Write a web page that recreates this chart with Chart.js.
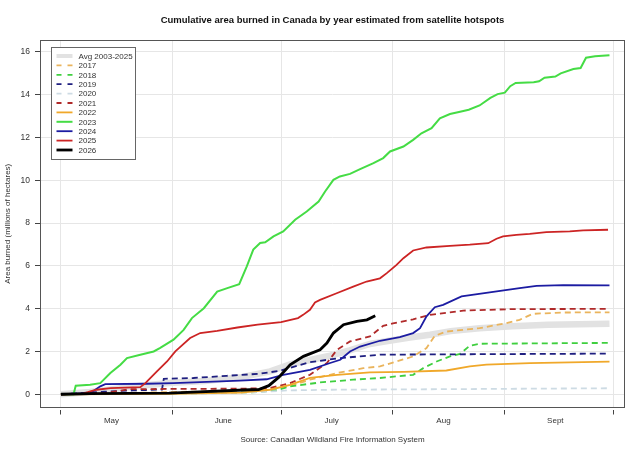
<!DOCTYPE html>
<html>
<head>
<meta charset="utf-8">
<title>Cumulative area burned in Canada</title>
<script src="https://cdn.jsdelivr.net/npm/chart.js@4.4.1/dist/chart.umd.min.js"></script>
<style>
  html, body { margin: 0; padding: 0; background: #fff; }
  #wrap { width: 640px; height: 451px; }
</style>
</head>
<body>
<div id="wrap"><canvas id="chart" width="640" height="451"></canvas></div>
<script>
// x = day of season (0 = May 1), y = millions of hectares
const monthNames = ['May', 'June', 'July', 'Aug', 'Sept'];
const monthStarts = [0, 31, 61, 92, 123, 153];
const monthMids = [14, 45, 75, 106, 137];
const yTicks = [0, 2, 4, 6, 8, 10, 12, 14, 16];

const seriesLabels = ['Avg 2003-2025', '2017', '2018', '2019', '2020', '2021',
                      '2022', '2023', '2024', '2025', '2026'];

const avg = [[0,0],[8,0.1],[15,0.25],[22,0.4],[30,0.52],[40,0.62],[50,0.8],[58,1.07],[63.5,1.4],
  [69,1.6],[74.6,1.8],[80,2.05],[85.6,2.35],[91,2.5],[96.7,2.65],[102.3,2.78],[108,2.95],
  [116,3.08],[125,3.18],[135,3.25],[152,3.3]];

const y2017 = [[0,0],[15,0.05],[30,0.1],[45,0.15],[55,0.2],[63.5,0.37],[69,0.68],[76.5,0.99],
  [83.8,1.22],[88.4,1.3],[93,1.53],[97.6,1.77],[101.3,2.16],[103.6,2.73],[106.8,2.93],[116,3.09],
  [123.4,3.32],[127.1,3.48],[130.8,3.76],[139,3.82],[152,3.83]];

const y2018 = [[0,0],[20,0.02],[40,0.05],[55,0.1],[60,0.2],[63.5,0.37],[71.8,0.55],[81,0.68],
  [88.4,0.76],[97.6,0.91],[100.4,1.22],[104.1,1.53],[107.8,1.77],[110.6,1.89],[113.3,2.27],
  [116.1,2.36],[152,2.4]];

const y2019 = [[0,0],[5,0.05],[12,0.12],[20,0.18],[28,0.22],[28.5,0.72],[36.7,0.76],[45.9,0.86],
  [55.2,0.96],[60.7,1.1],[69,1.5],[77.4,1.69],[82.9,1.77],[88.4,1.85],[152,1.9]];

const y2020 = [[0,0],[40,0.02],[55,0.1],[63,0.18],[75,0.21],[110,0.24],[152,0.28]];

const y2021 = [[0,0],[12,0.05],[19,0.24],[35,0.25],[50,0.26],[57.9,0.29],[63.5,0.52],[69,0.91],
  [73.7,1.46],[76.5,2.08],[80.1,2.47],[85.6,2.7],[89.3,3.2],[92,3.31],[97.6,3.5],[102.3,3.71],
  [111.5,3.91],[125,3.98],[152,3.99]];

const y2022 = [[0,0],[30,0.02],[50,0.08],[57.9,0.21],[63.5,0.44],[69,0.76],[76.5,0.91],[85.6,1.02],
  [95,1.05],[106.8,1.11],[113.3,1.3],[117.9,1.38],[129.9,1.45],[152,1.52]];

const y2023 = [[0,0],[3.5,0],[4.1,0.4],[8.1,0.44],[10.9,0.52],[13.7,0.99],[16.5,1.38],[18.3,1.69],
  [22,1.85],[25.7,2.0],[27.4,2.16],[31.2,2.55],[34,3.01],[36.3,3.56],[39.6,4.02],[43.3,4.8],
  [46.1,4.96],[49.4,5.15],[51.5,5.98],[53.3,6.76],[55.2,7.07],[56.6,7.1],[58.9,7.38],[61.6,7.61],
  [64.9,8.16],[68.1,8.54],[71.4,9.01],[73.2,9.48],[75.5,10.02],[77.3,10.18],[80.1,10.3],
  [82.9,10.52],[86.6,10.8],[89.3,11.04],[91.2,11.35],[94.9,11.58],[97.6,11.89],[99.9,12.2],
  [102.7,12.44],[105,12.9],[107.8,13.1],[110.6,13.21],[113,13.3],[116,13.5],[119,13.85],
  [121,14.03],[123,14.1],[124.5,14.4],[126,14.55],[131,14.58],[132.5,14.63],[134,14.8],
  [137,14.85],[138.5,15.0],[142,15.2],[144,15.25],[145.5,15.73],[148,15.8],[152,15.85]];

const y2024 = [[0,0],[8.1,0.05],[10.9,0.37],[12.3,0.47],[23.8,0.49],[31.2,0.52],[40.4,0.58],
  [49.6,0.64],[57,0.7],[61.6,0.91],[69,1.14],[74.6,1.46],[77.4,1.61],[80.1,2.0],[82.9,2.23],
  [88.4,2.5],[93.9,2.67],[97.6,2.86],[99.5,3.09],[101.3,3.64],[103.6,4.07],[105.9,4.18],
  [111,4.57],[118.8,4.76],[127.1,4.96],[131.8,5.07],[139.2,5.1],[152,5.09]];

const y2025 = [[0,0],[6,0.02],[8.1,0.13],[9.9,0.21],[13.7,0.29],[22,0.33],[23.4,0.52],[26.6,1.07],
  [29.4,1.53],[31.7,2.0],[33,2.2],[35.8,2.63],[38.6,2.86],[43.3,2.96],[48.9,3.12],[54.5,3.25],
  [61,3.37],[65.7,3.56],[67.1,3.71],[69,3.95],[70.4,4.29],[71.8,4.41],[76.4,4.72],[81,5.03],
  [84.7,5.27],[88.4,5.42],[90.3,5.66],[93,6.05],[94.9,6.36],[97.6,6.72],[101.3,6.86],
  [107.8,6.94],[113.3,6.99],[118.4,7.06],[120.7,7.27],[122.5,7.38],[126.2,7.45],[129.9,7.5],
  [134.5,7.58],[141,7.61],[144.7,7.66],[151.6,7.69]];

const y2026 = [[0,0],[8,0.03],[30,0.05],[36.7,0.1],[52.4,0.21],[54.8,0.22],[57.6,0.4],[60.4,0.8],
  [63.5,1.38],[67.2,1.77],[71.8,2.08],[73.7,2.39],[75.5,2.86],[78.3,3.25],[82,3.41],[84.8,3.48],
  [87.1,3.67]];

const seriesData = [avg, y2017, y2018, y2019, y2020, y2021, y2022, y2023, y2024, y2025, y2026];

// line styles: colour, width, dash
const styles = [
  { color: '#e2e2e2', width: 6.5, dash: [] },
  { color: '#eab45c', width: 1.8, dash: [6, 4] },
  { color: '#3fcf3f', width: 1.8, dash: [6, 4] },
  { color: '#1f1f80', width: 1.8, dash: [6, 4] },
  { color: '#cddbe4', width: 1.8, dash: [6, 4] },
  { color: '#b02a2a', width: 1.8, dash: [6, 4] },
  { color: '#f0a82a', width: 1.8, dash: [] },
  { color: '#45dc45', width: 2, dash: [] },
  { color: '#1c1ca2', width: 1.8, dash: [] },
  { color: '#cc2424', width: 1.8, dash: [] },
  { color: '#000000', width: 2.8, dash: [] }
];

const FONT = '"Liberation Sans", Arial, sans-serif';
const GRID = '#e6e6e6';

const datasets = seriesData.map((pts, i) => ({
  label: seriesLabels[i],
  data: pts.map(p => ({ x: p[0], y: p[1] })),
  borderColor: styles[i].color,
  borderWidth: styles[i].width,
  borderDash: styles[i].dash,
  pointRadius: 0,
  tension: 0,
  fill: false,
  order: seriesData.length - i
}));

const frameAndLegend = {
  id: 'frameAndLegend',
  beforeDatasetsDraw(chart) {
    const { ctx, chartArea: a } = chart;
    ctx.save();
    ctx.strokeStyle = '#555';
    ctx.lineWidth = 1;
    ctx.strokeRect(Math.round(a.left) + 0.5, Math.round(a.top) + 0.5,
                   Math.round(a.right - a.left) - 1, Math.round(a.bottom - a.top) - 1);
    ctx.restore();
  },
  afterDatasetsDraw(chart) {
    const { ctx, chartArea: a } = chart;
    const x0 = a.left + 11.5, y0 = a.top + 7.5, w = 84, h = 112;
    ctx.save();
    ctx.fillStyle = '#fff';
    ctx.fillRect(x0, y0, w, h);
    ctx.strokeStyle = '#666';
    ctx.lineWidth = 1;
    ctx.strokeRect(x0, y0, w, h);
    ctx.font = '8px ' + FONT;
    ctx.textBaseline = 'middle';
    chart.data.datasets.forEach((ds, i) => {
      const y = y0 + 8.5 + i * 9.4;
      ctx.beginPath();
      ctx.setLineDash(styles[i].dash.length ? [5, 6] : []);
      ctx.strokeStyle = styles[i].color;
      ctx.lineWidth = Math.min(styles[i].width, 4);
      ctx.moveTo(x0 + 5, y);
      ctx.lineTo(x0 + 21, y);
      ctx.stroke();
      ctx.setLineDash([]);
      ctx.fillStyle = '#333';
      ctx.fillText(ds.label, x0 + 27, y + 0.5);
    });
    ctx.restore();
  }
};

const ctx = document.getElementById('chart').getContext('2d');
new Chart(ctx, {
  type: 'line',
  data: { datasets: datasets },
  plugins: [frameAndLegend],
  options: {
    responsive: false,
    animation: false,
    layout: { padding: { left: 0, right: 15, top: 0, bottom: 0 } },
    plugins: {
      legend: { display: false },
      tooltip: { enabled: false }
    },
    scales: {
      x: {
        type: 'linear',
        position: 'bottom',
        min: -5.8,
        max: 156.3,
        afterBuildTicks: scale => {
          scale.ticks = monthStarts.concat(monthMids).sort((a, b) => a - b).map(v => ({ value: v }));
        },
        afterFit: scale => { scale.height = 43.5; },
        border: { display: false },
        grid: {
          z: -1,
          color: c => (c.tick && monthStarts.includes(c.tick.value)) ? GRID : 'rgba(0,0,0,0)',
          tickColor: c => (c.tick && monthStarts.includes(c.tick.value)) ? '#444' : 'rgba(0,0,0,0)',
          tickLength: 7,
          tickBorderDash: [0, 2, 5, 100]
        },
        ticks: {
          autoSkip: false,
          maxRotation: 0,
          padding: 1,
          color: '#333',
          font: { family: FONT, size: 8 },
          callback: v => {
            const k = monthMids.indexOf(v);
            return k >= 0 ? monthNames[k] : '';
          }
        },
        title: {
          display: true,
          text: 'Source: Canadian Wildland Fire Information System',
          color: '#333',
          font: { family: FONT, size: 8 },
          padding: { top: 0, bottom: 6 }
        }
      },
      xTop: {
        type: 'linear',
        position: 'top',
        min: -5.8,
        max: 156.3,
        afterFit: scale => { scale.height = 40; },
        border: { display: false },
        grid: { display: false },
        ticks: { display: false },
        title: {
          display: true,
          text: 'Cumulative area burned in Canada by year estimated from satellite hotspots',
          color: '#111',
          font: { family: FONT, size: 9.5, weight: 'bold' },
          padding: { top: 15, bottom: 0 }
        }
      },
      y: {
        type: 'linear',
        position: 'left',
        min: -0.62,
        max: 16.56,
        afterBuildTicks: scale => {
          scale.ticks = yTicks.map(v => ({ value: v }));
        },
        afterFit: scale => { scale.width = 40; },
        border: { display: false },
        grid: {
          z: -1,
          color: GRID,
          tickColor: '#444',
          tickLength: 7,
          tickBorderDash: [0, 2, 5, 100]
        },
        ticks: {
          padding: 3,
          color: '#333',
          font: { family: FONT, size: 8.5 }
        },
        title: {
          display: true,
          text: 'Area burned (millions of hectares)',
          color: '#333',
          font: { family: FONT, size: 8 },
          padding: { top: 3, bottom: 0 }
        }
      }
    }
  }
});
</script>
</body>
</html>
